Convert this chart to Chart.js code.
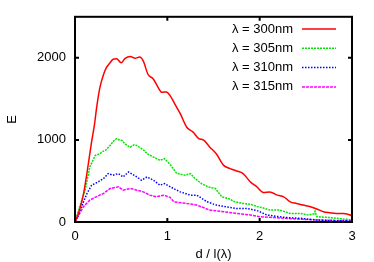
<!DOCTYPE html>
<html>
<head>
<meta charset="utf-8">
<script src="https://cdn.jsdelivr.net/npm/chart.js@4/dist/chart.umd.min.js"></script>
<style>
  html, body { margin: 0; padding: 0; background: #fff; }
  #wrap { width: 374px; height: 262px; }
</style>
</head>
<body>
<div id="wrap"><canvas id="myChart" width="374" height="262"></canvas></div>
<script>
// d / l(lambda) positions and E values
var d300 = [0, 0.05, 0.09, 0.13, 0.18, 0.21, 0.235, 0.27, 0.31, 0.34, 0.38, 0.41, 0.45, 0.50, 0.54, 0.60, 0.65, 0.70, 0.74, 0.79, 0.85, 0.90, 0.94, 0.99, 1.03, 1.08, 1.14, 1.21, 1.28, 1.34, 1.39, 1.46, 1.53, 1.61, 1.68, 1.75, 1.82, 1.90, 1.97, 2.04, 2.11, 2.19, 2.26, 2.33, 2.40, 2.47, 2.55, 2.62, 2.69, 2.76, 2.83, 2.91, 2.98, 3.0];
var e300 = [0, 150, 330, 600, 980, 1180, 1400, 1640, 1800, 1880, 1940, 1980, 1990, 1940, 1990, 2015, 1995, 2010, 1960, 1800, 1740, 1640, 1580, 1585, 1540, 1440, 1320, 1155, 1095, 1015, 1000, 912, 832, 690, 650, 622, 590, 488, 428, 360, 367, 327, 307, 246, 226, 206, 185, 158, 125, 113, 105, 105, 85, 70];

var d305 = [0, 0.05, 0.11, 0.16, 0.22, 0.27, 0.30, 0.33, 0.38, 0.42, 0.45, 0.48, 0.51, 0.54, 0.57, 0.60, 0.64, 0.67, 0.72, 0.75, 0.78, 0.85, 0.92, 0.97, 1.03, 1.10, 1.19, 1.25, 1.30, 1.37, 1.44, 1.52, 1.59, 1.66, 1.73, 1.82, 1.90, 1.97, 2.04, 2.11, 2.22, 2.33, 2.44, 2.53, 2.59, 2.60, 2.62, 2.73, 2.83, 2.94, 3.0];
var e305 = [0, 185, 388, 670, 812, 832, 860, 873, 933, 990, 1015, 1000, 994, 954, 930, 912, 940, 933, 893, 870, 832, 791, 751, 771, 700, 595, 570, 590, 530, 468, 428, 408, 307, 287, 246, 226, 215, 190, 170, 145, 145, 105, 105, 85, 100, 130, 64, 57, 45, 33, 24];

var d310 = [0, 0.03, 0.07, 0.13, 0.18, 0.25, 0.31, 0.36, 0.41, 0.47, 0.52, 0.58, 0.61, 0.67, 0.72, 0.78, 0.85, 0.92, 0.97, 1.03, 1.08, 1.14, 1.25, 1.32, 1.43, 1.53, 1.64, 1.75, 1.86, 1.97, 2.08, 2.26, 2.44, 2.62, 2.80, 3.0];
var e310 = [0, 70, 185, 348, 448, 488, 530, 590, 570, 590, 549, 610, 590, 549, 509, 549, 509, 448, 468, 430, 400, 367, 327, 327, 246, 206, 185, 165, 165, 140, 85, 57, 45, 24, 16, 14];

var d315 = [0, 0.03, 0.09, 0.16, 0.23, 0.31, 0.38, 0.47, 0.52, 0.60, 0.67, 0.74, 0.81, 0.88, 0.96, 1.03, 1.07, 1.21, 1.32, 1.46, 1.61, 1.75, 1.90, 2.0, 2.26, 2.62, 2.98, 3.0];
var e315 = [0, 60, 185, 266, 307, 348, 408, 428, 388, 408, 388, 367, 327, 307, 327, 300, 246, 226, 206, 145, 125, 105, 85, 64, 45, 24, 16, 15];

var labels = ['\u03bb = 300nm', '\u03bb = 305nm', '\u03bb = 310nm', '\u03bb = 315nm'];
var xTicks = [0, 1, 2, 3];
var yTicks = [0, 1000, 2000];

function pts(xs, ys) {
    return xs.map(function (x, i) { return {x: x, y: ys[i]}; });
}

var FONT = '"Liberation Sans", Arial, sans-serif';

// frame with inward ticks on all four sides + gnuplot style key
var framePlugin = {
    id: 'frame',
    afterDraw: function (chart) {
        var c = chart.ctx, a = chart.chartArea;
        var xs = chart.scales.x, ys = chart.scales.y;
        c.save();
        c.strokeStyle = '#000';
        c.lineWidth = 2;
        c.strokeRect(a.left, a.top, a.right - a.left, a.bottom - a.top);
        c.beginPath();
        xTicks.forEach(function (v) {
            var px = xs.getPixelForValue(v);
            c.moveTo(px, a.bottom); c.lineTo(px, a.bottom - 4);
            c.moveTo(px, a.top); c.lineTo(px, a.top + 4);
        });
        yTicks.forEach(function (v) {
            var py = ys.getPixelForValue(v);
            c.moveTo(a.left, py); c.lineTo(a.left + 4, py);
            c.moveTo(a.right, py); c.lineTo(a.right - 4, py);
        });
        c.stroke();

        // key
        c.font = '13px ' + FONT;
        c.textAlign = 'right';
        c.textBaseline = 'middle';
        chart.data.datasets.forEach(function (ds, i) {
            var y = 29 + i * 19.3;
            c.fillStyle = '#000';
            c.fillText(ds.label, 293, y);
            c.strokeStyle = ds.borderColor;
            c.lineWidth = ds.borderWidth;
            c.setLineDash(ds.borderDash || []);
            c.beginPath();
            c.moveTo(302, y); c.lineTo(336, y);
            c.stroke();
        });
        c.restore();
    }
};

document.addEventListener("DOMContentLoaded", () => {
    var ctx = document.getElementById('myChart').getContext('2d');
    var chart = new Chart(ctx, {
        type: 'line',
        data: {
            datasets: [{
                label: labels[0],
                borderColor: 'rgb(255, 0, 0)',
                borderWidth: 1.5,
                data: pts(d300, e300),
                cubicInterpolationMode: 'monotone'
            }, {
                label: labels[1],
                borderColor: 'rgb(0, 230, 0)',
                borderWidth: 1.5,
                borderDash: [2, 1],
                data: pts(d305, e305)
            }, {
                label: labels[2],
                borderColor: 'rgb(0, 0, 255)',
                borderWidth: 1.5,
                borderDash: [1.5, 1.5],
                data: pts(d310, e310)
            }, {
                label: labels[3],
                borderColor: 'rgb(255, 0, 255)',
                borderWidth: 1.5,
                borderDash: [3, 1],
                data: pts(d315, e315)
            }]
        },
        options: {
            responsive: false,
            animation: false,
            events: [],
            elements: { point: { radius: 0 } },
            layout: { padding: { top: 16, right: 22, left: 0, bottom: 0 } },
            plugins: {
                legend: { display: false },
                tooltip: { enabled: false }
            },
            scales: {
                x: {
                    type: 'linear',
                    min: 0, max: 3,
                    afterFit: function (s) { s.height = 40; },
                    afterBuildTicks: function (s) { s.ticks = xTicks.map(function (v) { return {value: v}; }); },
                    grid: { display: false, drawTicks: false },
                    border: { display: false },
                    ticks: { padding: 7, color: '#000', font: { family: FONT, size: 13 },
                             callback: function (v) { return String(v); } },
                    title: { display: true, text: 'd / l(\u03bb)', color: '#000', padding: 0, font: { family: FONT, size: 13 } }
                },
                y: {
                    min: 0, max: 2500,
                    afterFit: function (s) { s.width = 75; },
                    afterBuildTicks: function (s) { s.ticks = yTicks.map(function (v) { return {value: v}; }); },
                    grid: { display: false, drawTicks: false },
                    border: { display: false },
                    ticks: { padding: 9, color: '#000', font: { family: FONT, size: 13 },
                             callback: function (v) { return String(v); } },
                    title: { display: true, text: 'E', color: '#000', padding: { top: 5, bottom: 0 }, font: { family: FONT, size: 13 } }
                }
            }
        },
        plugins: [framePlugin]
    });
});
</script>
</body>
</html>
